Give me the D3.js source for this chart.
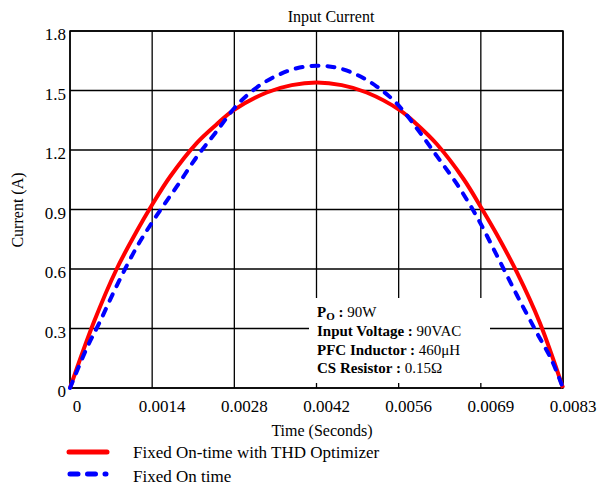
<!DOCTYPE html>
<html>
<head>
<meta charset="utf-8">
<script src="https://cdn.jsdelivr.net/npm/d3@7/dist/d3.min.js"></script>
<style>
  body { margin: 0; background: #ffffff; }
  text { font-family: "Liberation Serif", "Times New Roman", serif; fill: #000; }
</style>
</head>
<body>
<svg id="chart" width="605" height="489"></svg>
<script>
// time axis (seconds) and tick labels
const xTickLabels = ["0", "0.0014", "0.0028", "0.0042", "0.0056", "0.0069", "0.0083"];
const yTickValues = [0, 0.3, 0.6, 0.9, 1.2, 1.5, 1.8];
const yTickLabels = ["0", "0.3", "0.6", "0.9", "1.2", "1.5", "1.8"];

// Fixed On-time with THD Optimizer (red)
const timeRed = [0, 0.000399, 0.000786, 0.001123, 0.001375, 0.001684, 0.002133, 0.002470, 0.002749, 0.003312, 0.003733, 0.004153,
                 0.004574, 0.004995, 0.005558, 0.005837, 0.006174, 0.006623, 0.006931, 0.007184, 0.007521, 0.007908, 0.0083];
const currentRed = [0, 0.33, 0.60, 0.79, 0.92, 1.065, 1.235, 1.33, 1.40, 1.49, 1.527, 1.54,
                    1.527, 1.49, 1.40, 1.33, 1.23, 1.055, 0.905, 0.775, 0.585, 0.33, 0];

// Fixed On time (blue dashed)
const timeBlue = [0, 0.000281, 0.000505, 0.000786, 0.001123, 0.001460, 0.001796, 0.002133, 0.002470, 0.002807, 0.003143, 0.003480, 0.003817,
                  0.004153, 0.004490, 0.004827, 0.005164, 0.005500, 0.005837, 0.006174, 0.006510, 0.006847, 0.007184, 0.007521,
                  0.007857, 0.008110, 0.0083];
const currentBlue = [0, 0.2, 0.335, 0.515, 0.71, 0.87, 1.015, 1.165, 1.295, 1.425, 1.515, 1.575, 1.612,
                     1.625, 1.615, 1.58, 1.52, 1.435, 1.31, 1.17, 1.03, 0.865, 0.67, 0.47,
                     0.28, 0.14, 0];

const seriesNames = ["Fixed On-time with THD Optimizer", "Fixed On time"];
const infoLabels = ["Input Voltage : ", "PFC Inductor : ", "CS Resistor : "];
const infoValues = ["90VAC", "460\u03bcH", "0.15\u03a9"];

const tMax = 0.0083;
const xTickValues = xTickLabels.map((d, i) => i * tMax / 6);

const svg = d3.select("#chart");
const x = d3.scaleLinear().domain([0, tMax]).range([70, 563]);
const y = d3.scaleLinear().domain([0, 1.8]).range([388, 31]);

// grid
const grid = svg.append("g");
grid.selectAll(".vg").data(xTickValues).enter().append("line")
  .attr("x1", d => x(d)).attr("x2", d => x(d))
  .attr("y1", y(0)).attr("y2", y(1.8))
  .attr("stroke", "#000").attr("stroke-width", 1.3);
grid.selectAll(".hg").data(yTickValues).enter().append("line")
  .attr("x1", x(0)).attr("x2", x(tMax))
  .attr("y1", d => y(d)).attr("y2", d => y(d))
  .attr("stroke", "#000").attr("stroke-width", 1.3);
svg.append("rect")
  .attr("x", x(0)).attr("y", y(1.8))
  .attr("width", x(tMax) - x(0)).attr("height", y(0) - y(1.8))
  .attr("fill", "none").attr("stroke", "#000").attr("stroke-width", 1.5);

// tick labels
svg.selectAll(".xl").data(xTickValues).enter().append("text")
  .attr("x", (d, i) => x(d) + (i === 0 ? 7 : 10))
  .attr("y", 412)
  .attr("text-anchor", "middle")
  .attr("font-size", 17)
  .text((d, i) => xTickLabels[i]);
svg.selectAll(".yl").data(yTickValues).enter().append("text")
  .attr("x", 66)
  .attr("y", d => y(d) + 9)
  .attr("text-anchor", "end")
  .attr("font-size", 17)
  .text((d, i) => yTickLabels[i]);

// info box
svg.append("rect")
  .attr("x", 309).attr("y", 298).attr("width", 181).attr("height", 85)
  .attr("fill", "#fff");
const info = svg.append("g").attr("font-size", 15);
const po = info.append("text").attr("x", 317).attr("y", 317);
po.append("tspan").attr("font-weight", "bold").text("P");
po.append("tspan").attr("font-weight", "bold").attr("font-size", 11).attr("dy", 3).text("O");
po.append("tspan").attr("font-weight", "bold").attr("dy", -3).text(" : ");
po.append("tspan").text("90W");
infoLabels.forEach((lab, i) => {
  const t = info.append("text").attr("x", 317).attr("y", 336 + i * 18.7);
  t.append("tspan").attr("font-weight", "bold").text(lab);
  t.append("tspan").text(infoValues[i]);
});

// curves
const line = d3.line()
  .x(d => x(d[0])).y(d => y(d[1]))
  .curve(d3.curveCatmullRom.alpha(0.5));

svg.append("path")
  .datum(timeRed.map((t, i) => [t, currentRed[i]]))
  .attr("d", line)
  .attr("fill", "none").attr("stroke", "#ff0000").attr("stroke-width", 4);

svg.append("path")
  .datum(timeBlue.map((t, i) => [t, currentBlue[i]]))
  .attr("d", line)
  .attr("fill", "none").attr("stroke", "#0000ff").attr("stroke-width", 4)
  .attr("stroke-linecap", "round").attr("stroke-dasharray", "7,9");

// titles
svg.append("text").attr("x", 331).attr("y", 22).attr("text-anchor", "middle")
  .attr("font-size", 16).text("Input Current");
svg.append("text").attr("x", 322).attr("y", 436).attr("text-anchor", "middle")
  .attr("font-size", 16).text("Time (Seconds)");
svg.append("text").attr("transform", "translate(23,210) rotate(-90)").attr("text-anchor", "middle")
  .attr("font-size", 16).text("Current (A)");

// legend
svg.append("line").attr("x1", 69).attr("x2", 107).attr("y1", 452).attr("y2", 452)
  .attr("stroke", "#ff0000").attr("stroke-width", 5).attr("stroke-linecap", "round");
svg.append("line").attr("x1", 70).attr("x2", 106).attr("y1", 474).attr("y2", 474)
  .attr("stroke", "#0000ff").attr("stroke-width", 5).attr("stroke-linecap", "round")
  .attr("stroke-dasharray", "8,9.5");
svg.selectAll(".lg").data(seriesNames).enter().append("text")
  .attr("x", 133).attr("y", (d, i) => 458 + i * 24)
  .attr("font-size", 17).text(d => d);
</script>
</body>
</html>
